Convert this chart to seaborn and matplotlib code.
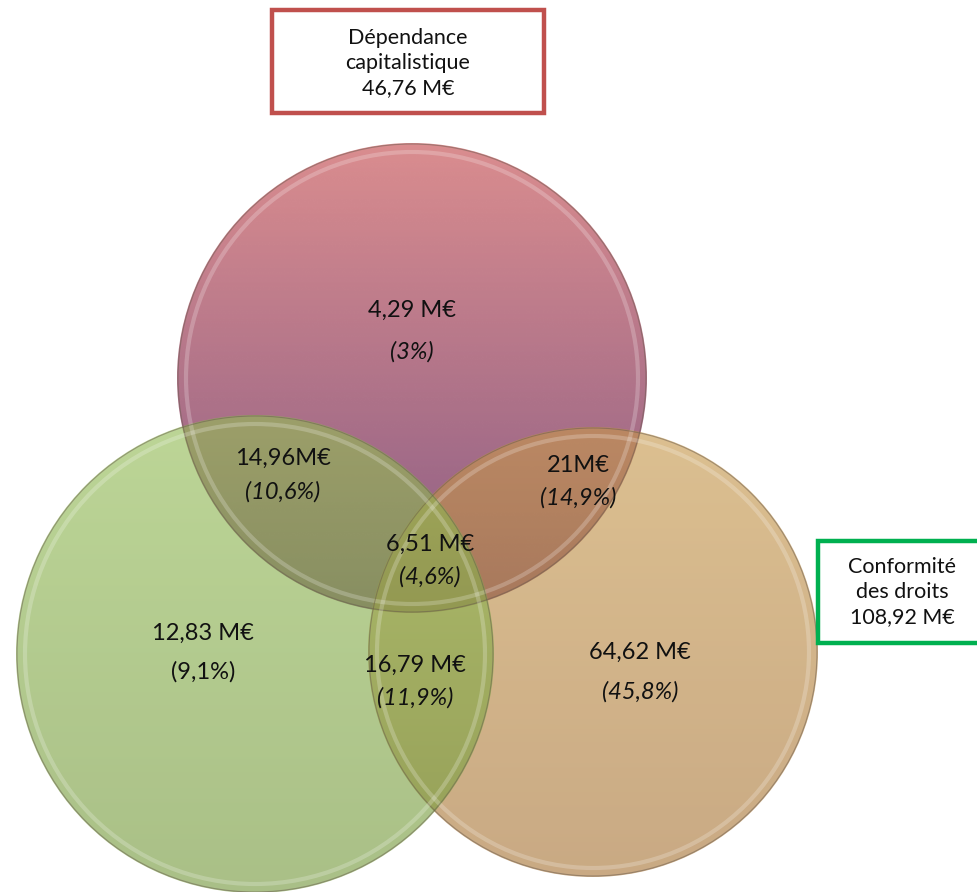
import numpy as np
import matplotlib
matplotlib.use("Agg")
import matplotlib.pyplot as plt
import seaborn as sns
from matplotlib.patches import Circle, Rectangle

# ---- data ----
set_labels = ["Dépendance\ncapitalistique\n46,76 M€", "Conformité\ndes droits\n108,92 M€"]
region_values = ["4,29 M€", "14,96M€", "21M€", "6,51 M€", "12,83 M€", "16,79 M€", "64,62 M€"]
region_shares = ["(3%)", "(10,6%)", "(14,9%)", "(4,6%)", "(9,1%)", "(11,9%)", "(45,8%)"]
share_italic = [True, True, True, True, False, True, True]

# ---- layout (pixel coordinates) ----
circles = [  # cx, cy, r, top colour, bottom colour, alpha
    (412, 378, 235, (0.82, 0.44, 0.45), (0.42, 0.20, 0.40), 0.80),
    (593, 652, 225, (0.78, 0.60, 0.30), (0.66, 0.46, 0.22), 0.62),
    (255, 654, 239, (0.58, 0.74, 0.34), (0.46, 0.60, 0.24), 0.62),
]
value_pos = [(412, 310), (283, 458), (578, 466), (430, 544), (203, 633), (415, 665), (640, 652)]
share_pos = [(412, 352), (283, 492), (578, 498), (430, 577), (203, 672), (415, 698), (640, 692)]

sns.set_theme(style="white")
plt.rcParams["font.family"] = ["Lato", "DejaVu Sans"]

fig = plt.figure(figsize=(9.77, 8.92), dpi=100)
ax = fig.add_axes([0, 0, 1, 1])
ax.set_xlim(0, 977)
ax.set_ylim(892, 0)
ax.axis("off")

for cx, cy, r, ctop, cbot, a in circles:
    n = 256
    t = np.linspace(0, 1, n)[:, None, None]
    top = np.array(ctop)[None, None, :]
    bot = np.array(cbot)[None, None, :]
    rgb = top * (1 - t) + bot * t
    rgb = np.repeat(rgb, 2, axis=1)
    img = np.concatenate([rgb, np.full((n, 2, 1), a)], axis=2)
    clip = Circle((cx, cy), r, transform=ax.transData)
    im = ax.imshow(img, extent=(cx - r, cx + r, cy + r, cy - r), origin="upper",
                   aspect="auto", interpolation="bilinear", zorder=1)
    im.set_clip_path(clip)
    ax.add_patch(Circle((cx, cy), r - 1, fill=False, edgecolor=(0.40, 0.35, 0.30),
                        lw=0.8, alpha=0.5, zorder=2))
    ax.add_patch(Circle((cx, cy), r - 9, fill=False, edgecolor="white",
                        lw=3, alpha=0.22, zorder=2))

ax.set_xlim(0, 977)
ax.set_ylim(892, 0)

for v, (x, y) in zip(region_values, value_pos):
    ax.text(x, y, v, ha="center", va="center", fontsize=17, color="#111111", zorder=5)
for s, it, (x, y) in zip(region_shares, share_italic, share_pos):
    ax.text(x, y, s, ha="center", va="center", fontsize=17, color="#111111",
            style="italic" if it else "normal", zorder=5)

# label boxes
ax.add_patch(Rectangle((272, 10), 272, 103, fill=True, facecolor="white",
                       edgecolor="#c0504d", lw=3.2, zorder=6))
ax.text(408, 63, set_labels[0], ha="center", va="center", fontsize=15.5,
        linespacing=1.3, color="#111111", zorder=7)
ax.add_patch(Rectangle((818, 541), 170, 102, fill=True, facecolor="white",
                       edgecolor="#00b050", lw=3.2, zorder=6, clip_on=False))
ax.text(902, 592, set_labels[1], ha="center", va="center", fontsize=15.5,
        linespacing=1.3, color="#111111", zorder=7)

fig.savefig("out.png", dpi=100)
